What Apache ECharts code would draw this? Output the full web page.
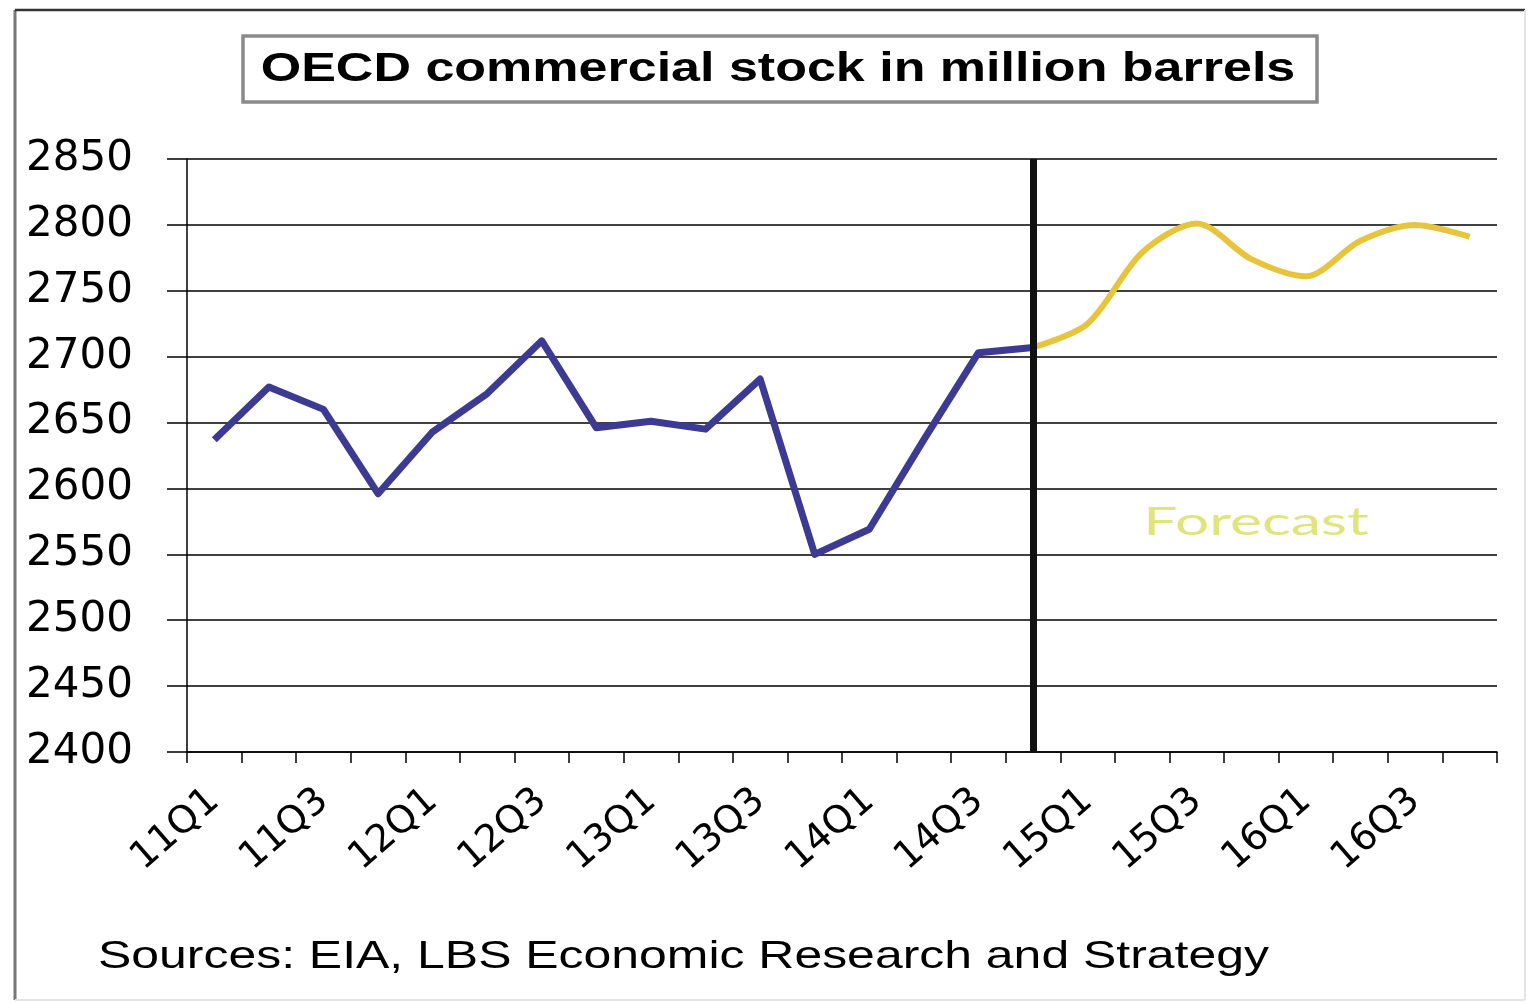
<!DOCTYPE html>
<html>
<head>
<meta charset="utf-8">
<script src="https://cdn.jsdelivr.net/npm/echarts@6/dist/echarts.min.js"></script>
<style>
html,body{margin:0;padding:0;background:#fff;}
#chart{width:1535px;height:1003px;}
</style>
</head>
<body>
<div id="chart"></div>
<script>
var categories = ['11Q1','11Q2','11Q3','11Q4','12Q1','12Q2','12Q3','12Q4','13Q1','13Q2','13Q3','13Q4','14Q1','14Q2','14Q3','14Q4','15Q1','15Q2','15Q3','15Q4','16Q1','16Q2','16Q3','16Q4'];
var actualStock = [2637, 2677, 2660, 2596, 2643, 2672, 2712, 2646, 2651, 2645, 2683, 2550, 2569, 2637, 2703, 2707, null, null, null, null, null, null, null, null];
var forecastStock = [null, null, null, null, null, null, null, null, null, null, null, null, null, null, null, 2707, 2725, 2779, 2801, 2774, 2761, 2788, 2800, 2791];
var yMin = 2400, yMax = 2850, yStep = 50;
var forecastStart = '14Q4';
var titleText = 'OECD commercial stock in million barrels';
var sourceText = 'Sources: EIA, LBS Economic Research and Strategy';
var forecastLabel = 'Forecast';

var chart = echarts.init(document.getElementById('chart'), null, {renderer: 'canvas'});
chart.setOption({
  animation: false,
  backgroundColor: '#ffffff',
  grid: {left: 187, right: 38, top: 159, bottom: 251, containLabel: false},
  xAxis: {
    type: 'category',
    data: categories,
    boundaryGap: true,
    axisLine: {lineStyle: {color: '#000', width: 1.5}},
    axisTick: {show: true, interval: 0, length: 11, lineStyle: {color: '#000', width: 1.5}},
    axisLabel: {interval: 1, rotate: 41, margin: 44, color: '#000', fontSize: 38, fontFamily: 'DejaVu Sans'},
    splitLine: {show: false}
  },
  yAxis: {
    type: 'value',
    min: yMin, max: yMax, interval: yStep,
    axisLine: {show: true, lineStyle: {color: '#000', width: 1.5}},
    axisTick: {show: true, length: 20, lineStyle: {color: '#000', width: 1.5}},
    axisLabel: {margin: 54, color: '#000', fontSize: 42, fontFamily: 'DejaVu Sans', formatter: function (v) { return String(v); }},
    splitLine: {show: true, lineStyle: {color: '#000', width: 1.5}}
  },
  series: [
    {
      type: 'line',
      data: actualStock,
      symbol: 'none',
      lineStyle: {color: '#3c3a92', width: 7, join: 'round'},
      z: 3,
      markLine: {
        silent: true,
        symbol: ['none', 'none'],
        label: {show: false},
        lineStyle: {color: '#111', width: 7, type: 'solid'},
        data: [{xAxis: forecastStart}]
      }
    },
    {
      type: 'line',
      data: forecastStock,
      symbol: 'none',
      smooth: 0.3,
      lineStyle: {color: '#e6c43c', width: 6},
      z: 4
    }
  ],
  graphic: [
    {type: 'line', shape: {x1: 15, y1: 10, x2: 15, y2: 1000}, style: {stroke: '#777', lineWidth: 3}, silent: true},
    {type: 'line', shape: {x1: 15, y1: 10, x2: 1525, y2: 10}, style: {stroke: '#333', lineWidth: 2.5}, silent: true},
    {type: 'line', shape: {x1: 1525, y1: 10, x2: 1525, y2: 1000}, style: {stroke: '#e4e4e4', lineWidth: 2}, silent: true},
    {type: 'line', shape: {x1: 15, y1: 1000, x2: 1525, y2: 1000}, style: {stroke: '#e4e4e4', lineWidth: 2}, silent: true},
    {type: 'rect', shape: {x: 243, y: 36, width: 1074, height: 66}, style: {fill: '#fff', stroke: '#8a8a8a', lineWidth: 3.5}, silent: true},
    {type: 'text', x: 778, y: 70, scaleX: 1.3, style: {text: titleText, font: 'bold 40px "Liberation Sans"', fill: '#000', textAlign: 'center', textVerticalAlign: 'middle'}, silent: true},
    {type: 'text', x: 1256, y: 522, scaleX: 1.55, style: {text: forecastLabel, font: '39px Lato', fill: '#dfe57a', textAlign: 'center', textVerticalAlign: 'middle'}, silent: true, z: 10},
    {type: 'text', x: 98, y: 957, scaleX: 1.28, style: {text: sourceText, font: '39px "Liberation Sans"', fill: '#000', textAlign: 'left', textVerticalAlign: 'middle'}, silent: true}
  ]
});
</script>
</body>
</html>
